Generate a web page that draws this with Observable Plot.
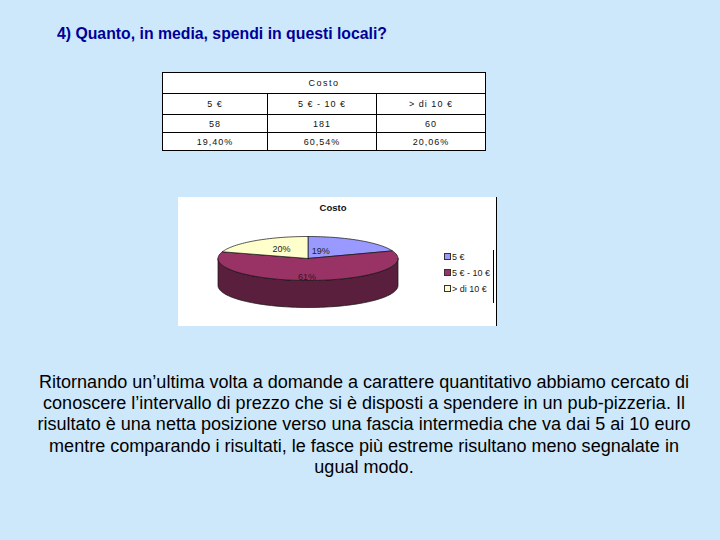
<!DOCTYPE html>
<html>
<head>
<meta charset="utf-8">
<script src="https://cdn.jsdelivr.net/npm/d3@7"></script>
<script src="https://cdn.jsdelivr.net/npm/@observablehq/plot@0.6"></script>
<style>
  html, body { margin: 0; padding: 0; }
  body { width: 720px; height: 540px; background: #cce8fa; position: relative; overflow: hidden; font-family: "Liberation Sans", Arial, sans-serif; }
  #title { position: absolute; left: 57px; top: 25px; font-size: 15.8px; line-height: 18px; font-weight: bold; color: #000099; white-space: nowrap; }
  #tbl { position: absolute; left: 162px; top: 72px; border-collapse: collapse; background: #fff; font-size: 9px; letter-spacing: 1px; color: #111; }
  #tbl td { border: 1px solid #000; text-align: center; padding: 0; }
  #chartbox { position: absolute; left: 178px; top: 197px; width: 319px; height: 129px; background: #fff; border-right: 1px solid #000; box-sizing: border-box; }
  #chartbox svg { position: absolute; left: 0; top: 0; }
  #ctitle { position: absolute; left: 0; width: 310px; top: 5px; text-align: center; font-size: 9.5px; font-weight: bold; color: #111; }
  #legend { position: absolute; left: 264px; top: 53px; width: 52px; height: 53px; border-right: 1px solid #000; box-sizing: border-box; font-size: 9px; color: #222; }
  .li { position: absolute; left: 2px; height: 12px; line-height: 12px; white-space: nowrap; }
  .sw { display: inline-block; width: 5px; height: 5px; border: 1px solid #333; vertical-align: middle; margin-right: 1px; position: relative; top: -1px; }
  #para { position: absolute; left: 0; width: 728px; top: 372px; text-align: center; font-size: 17.5px; line-height: 21.2px; color: #000; transform-origin: 364px 0; }
  #para span { display: block; white-space: nowrap; }
</style>
</head>
<body>
<div id="title">4) Quanto, in media, spendi in questi locali?</div>
<table id="tbl"></table>
<div id="chartbox">
  <div id="ctitle"></div>
  <div id="legend"></div>
</div>
<div id="para"></div>
<script>
// ---------- data ----------
const tableTitle = "Costo";
const categories = ["5 €", "5 € - 10 €", "> di 10 €"];
const counts = [58, 181, 60];
const percentText = ["19,40%", "60,54%", "20,06%"];
const pieLabels = ["19%", "61%", "20%"];
const sliceColors = ["#9999ff", "#993366", "#ffffcc"];
const sideColors = ["#4d4d99", "#5a1f3c", "#99997a"];
const chartTitle = "Costo";
const paragraphLines = [
  "Ritornando un’ultima volta a domande a carattere quantitativo abbiamo cercato di",
  "conoscere l’intervallo di prezzo che si è disposti a spendere in un pub-pizzeria. Il",
  "risultato è una netta posizione verso una fascia intermedia che va dai 5 ai 10 euro",
  "mentre comparando i risultati, le fasce più estreme risultano meno segnalate in",
  "ugual modo."
];

// ---------- table ----------
const tbl = document.getElementById("tbl");
const colW = [105, 109, 109];
const rowH = [21, 21, 18, 18];
{
  const tr = tbl.insertRow();
  const td = tr.insertCell();
  td.colSpan = 3; td.textContent = tableTitle; td.style.height = rowH[0] - 1 + "px";
  td.style.letterSpacing = "1.5px";
  [categories, counts, percentText].forEach((row, r) => {
    const t = tbl.insertRow();
    row.forEach((v, i) => {
      const c = t.insertCell();
      c.textContent = v;
      c.style.width = colW[i] - 1 + "px";
      c.style.height = rowH[r + 1] - 1 + "px";
    });
  });
}

// ---------- pie (3D look) ----------
const data = categories.map((c, i) => ({cat: c, count: counts[i], label: pieLabels[i], color: sliceColors[i], side: sideColors[i]}));
const arcs = d3.pie().sort(null).value(d => d.count)(data);
const depth = 27 / 22;
const step = Math.PI / 90;

function arcPoints(a0, a1, yOff) {
  const pts = [];
  const n = Math.max(2, Math.ceil((a1 - a0) / step));
  for (let k = 0; k <= n; k++) {
    const a = a0 + (a1 - a0) * k / n;
    pts.push({x: Math.sin(a), y: Math.cos(a) + yOff});
  }
  return pts;
}

const topRows = [];
const sideRows = [];
arcs.forEach((a, i) => {
  const pts = [{x: 0, y: 0}, ...arcPoints(a.startAngle, a.endAngle, 0), {x: 0, y: 0}];
  pts.forEach(p => topRows.push({...p, id: i, fill: a.data.color}));
  const s0 = Math.max(a.startAngle, Math.PI / 2), s1 = Math.min(a.endAngle, 3 * Math.PI / 2);
  if (s1 > s0) {
    const upper = arcPoints(s0, s1, 0);
    const lower = arcPoints(s0, s1, -depth).reverse();
    const poly = [...upper, ...lower, upper[0]];
    poly.forEach(p => sideRows.push({...p, id: i, fill: a.data.side}));
  }
});

const labelRows = arcs.map((a, i) => {
  const m = (a.startAngle + a.endAngle) / 2;
  return {x: 0.5 * Math.sin(m), y: 0.5 * Math.cos(m), text: a.data.label, i};
});
const labelNudge = [[-13, 2, "#222"], [-2, 8, "#3a0f25"], [0, -1, "#222"]];

const chart = Plot.plot({
  width: 318, height: 129,
  marginLeft: 39.5, marginRight: 98.5, marginTop: 39, marginBottom: 46,
  x: {domain: [-1, 1], axis: null},
  y: {domain: [-1, 1], axis: null},
  style: {background: "transparent"},
  marks: [
    Plot.line(sideRows, {x: "x", y: "y", z: "id", fill: "fill", stroke: "#111", strokeWidth: 0.7, curve: "linear"}),
    Plot.line(topRows, {x: "x", y: "y", z: "id", fill: "fill", stroke: "#111", strokeWidth: 0.7, curve: "linear"}),
    ...labelNudge.map(([dx, dy, col], i) =>
      Plot.text(labelRows.filter(d => d.i === i), {x: "x", y: "y", text: "text", dx, dy, fill: col, fontSize: 9, fontFamily: "Liberation Sans, Arial, sans-serif"}))
  ]
});
document.getElementById("chartbox").appendChild(chart);
document.getElementById("ctitle").textContent = chartTitle;

// legend
const lg = document.getElementById("legend");
categories.forEach((c, i) => {
  const it = document.createElement("div");
  it.className = "li";
  it.style.top = (1 + i * 16) + "px";
  const sw = document.createElement("span");
  sw.className = "sw"; sw.style.background = sliceColors[i];
  it.appendChild(sw);
  it.appendChild(document.createTextNode(c));
  lg.appendChild(it);
});

// paragraph
const para = document.getElementById("para");
paragraphLines.forEach(t => { const s = document.createElement("span"); s.textContent = t; para.appendChild(s); });
const r = document.createRange();
const first = para.firstChild;
r.selectNodeContents(first);
const w = r.getBoundingClientRect().width;
para.style.transform = `scaleX(${650 / w})`;
</script>
</body>
</html>
